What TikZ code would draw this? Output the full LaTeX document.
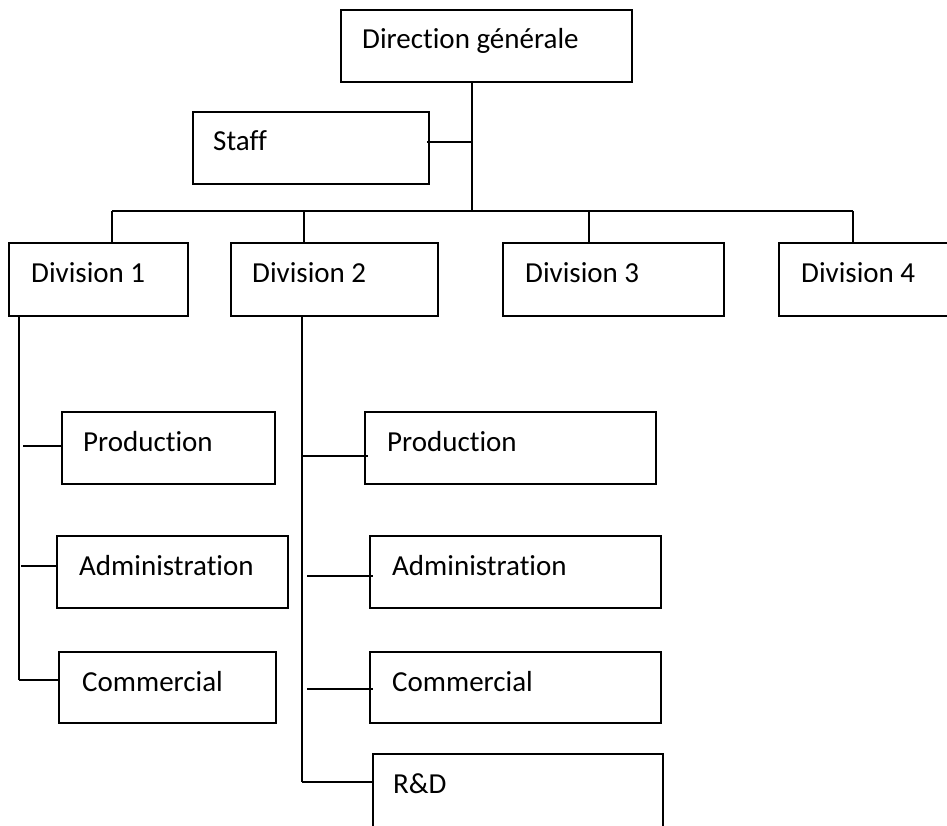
\documentclass[tikz,border=0pt]{standalone}
\usepackage{fontspec}
\setmainfont{Carlito}[Ligatures={NoCommon,NoContextual}]
\tikzset{
  unitbox/.style={draw=black, line width=2pt, fill=white, inner sep=0pt, outer sep=0pt},
  unitlabel/.style={anchor=base west, inner sep=0pt, font=\fontsize{29}{34}\selectfont},
  link/.style={draw=black, line width=2pt}
}
% \orgunit{name}{left}{top}{right}{bottom}{text x}{text}
\newcommand\orgunit[7]{%
  \node[unitbox, minimum width={(#4-#2)*1pt}, minimum height={(#5-#3)*1pt},
        anchor=north west] (#1) at (#2,#3) {};
  \node[unitlabel] (#1-txt) at (#6,#3+39) {#7};}
\begin{document}
\begin{tikzpicture}[x=1pt, y=-1pt]
  \useasboundingbox (0,0) rectangle (947,826);
  \clip (0,0) rectangle (947,826);
  \fill[white] (0,0) rectangle (947,826);

  % top level
  \orgunit{dg}{341}{10}{632}{82}{362}{Direction générale}
  \orgunit{staff}{193}{112}{429}{184}{213}{Staff}

  % divisions
  \orgunit{div1}{9}{243}{188}{316}{31}{Division 1}
  \orgunit{div2}{231}{243}{438}{316}{252}{Division 2}
  \orgunit{div3}{503}{243}{724}{316}{525}{Division 3}
  \orgunit{div4}{779}{243}{962}{316}{801}{Division 4}

  % departments of division 1
  \orgunit{p1}{62}{412}{275}{484}{83}{Production}
  \orgunit{a1}{57}{536}{288}{608}{79}{Administration}
  \orgunit{c1}{59}{652}{276}{723}{82}{Commercial}

  % departments of division 2
  \orgunit{p2}{365}{412}{656}{484}{387}{Production}
  \orgunit{a2}{370}{536}{661}{608}{392}{Administration}
  \orgunit{c2}{370}{652}{661}{723}{392}{Commercial}
  \orgunit{rd}{373}{754}{663}{840}{393}{R\&D}

  % spine from the general direction down to the bus
  \coordinate (spine) at (472,211);
  \coordinate (staffjoin) at (472,142);
  \draw[link] (spine |- dg.south) -- (spine);
  \draw[link] (staffjoin) -- (staffjoin -| 427,0);

  % bus and drops to the divisions
  \coordinate (busL) at (112,211);
  \coordinate (busR) at (853,211);
  \coordinate (d2) at (304,211);
  \coordinate (d3) at (589,211);
  \draw[link] (busL) -- (busR);
  \draw[link] (busL) -- (busL |- div1.north);
  \draw[link] (d2) -- (d2 |- div2.north);
  \draw[link] (d3) -- (d3 |- div3.north);
  \draw[link] (busR) -- (busR |- div4.north);

  % division 1 branches
  \coordinate (v1) at (19,680);
  \draw[link] (v1 |- div1.south) -- (v1);
  \coordinate (b1p) at (23,446);
  \coordinate (b1a) at (21,566);
  \draw[link] (b1p) -- (b1p -| p1.west);
  \draw[link] (b1a) -- (b1a -| a1.west);
  \draw[link] (v1) -- (v1 -| c1.west);

  % division 2 branches
  \coordinate (v2) at (302,782);
  \draw[link] (v2 |- div2.south) -- (v2);
  \coordinate (b2p) at (302,456);
  \coordinate (b2a) at (307,576);
  \coordinate (b2c) at (307,689);
  \draw[link] (b2p) -- (368,456);
  \draw[link] (b2a) -- (373,576);
  \draw[link] (b2c) -- (373,689);
  \draw[link] (v2) -- (v2 -| rd.west);
\end{tikzpicture}
\end{document}
